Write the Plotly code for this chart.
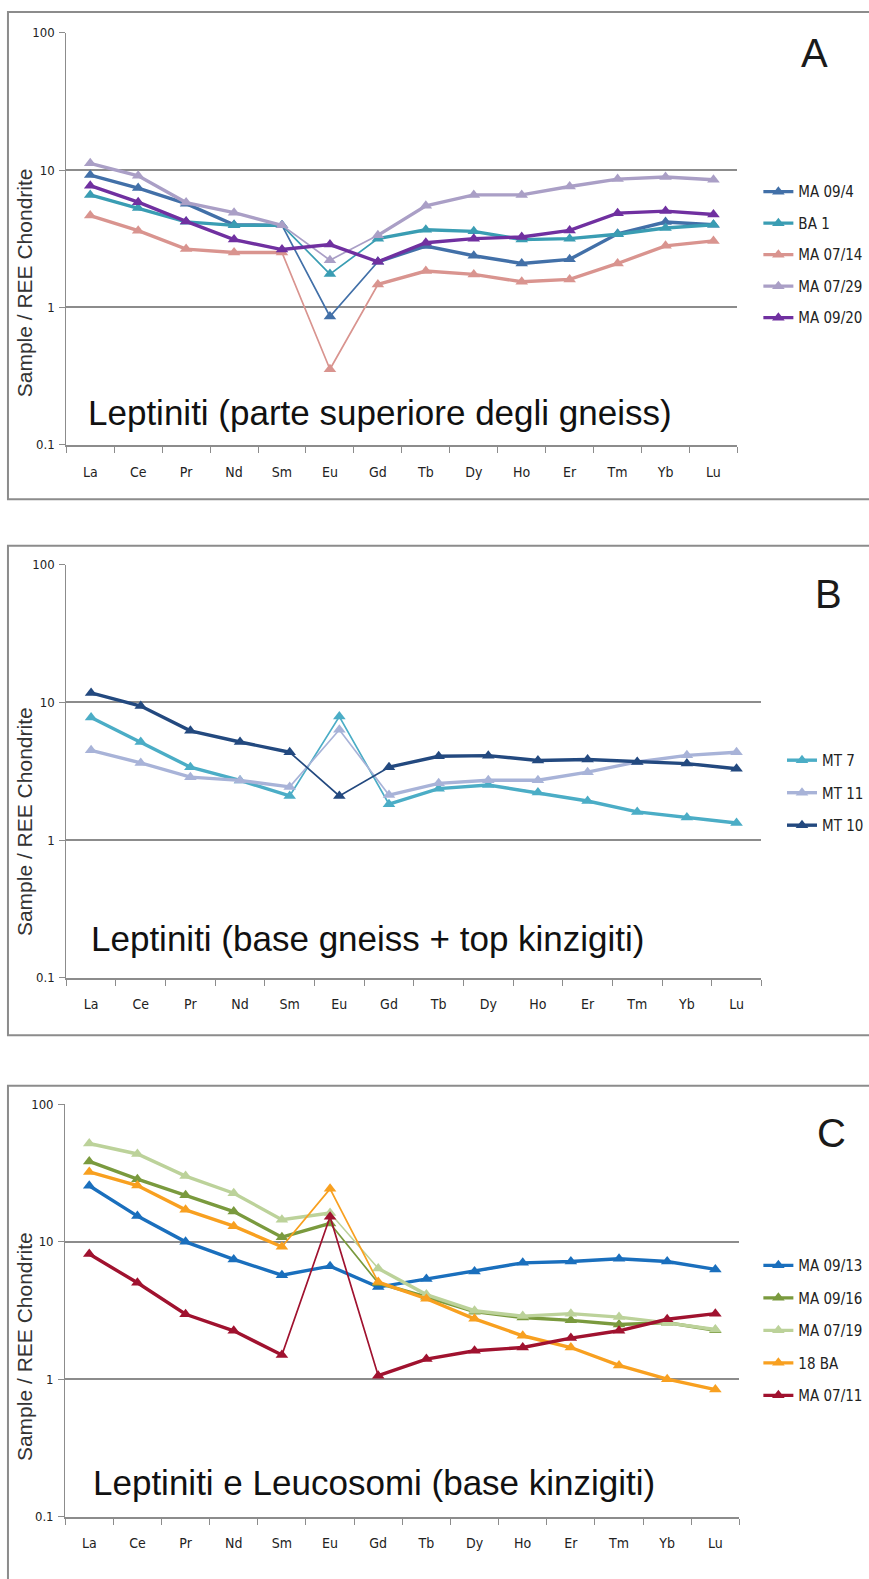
import math
import plotly.graph_objects as go

W, H = 869, 1579

ree = ["La", "Ce", "Pr", "Nd", "Sm", "Eu", "Gd", "Tb", "Dy", "Ho", "Er", "Tm", "Yb", "Lu"]
y_tickvals = [0.1, 1, 10, 100]
y_ticktext = ["0.1", "1", "10", "100"]

# ---- Panel A ----
a_names = ["MA 09/4", "BA 1", "MA 07/14", "MA 07/29", "MA 09/20"]
ma_09_4 = [9.2, 7.4, 5.7, 4.0, 3.96, 0.86, 2.15, 2.8, 2.38, 2.09, 2.24, 3.44, 4.19, 4.0]
ba_1 = [6.6, 5.3, 4.2, 3.96, 3.96, 1.75, 3.17, 3.68, 3.58, 3.12, 3.17, 3.41, 3.79, 4.0]
ma_07_14 = [4.67, 3.62, 2.66, 2.51, 2.51, 0.355, 1.47, 1.84, 1.74, 1.54, 1.60, 2.09, 2.81, 3.05]
ma_07_29 = [11.2, 9.1, 5.8, 4.9, 3.96, 2.21, 3.35, 5.5, 6.6, 6.6, 7.6, 8.6, 8.9, 8.5]
ma_09_20 = [7.7, 5.84, 4.23, 3.12, 2.64, 2.87, 2.15, 2.96, 3.17, 3.26, 3.64, 4.86, 5.03, 4.75]
a_colors = ["#4270A8", "#3A9DB3", "#D9948F", "#AA9FC6", "#7030A0"]

# ---- Panel B ----
b_names = ["MT 7", "MT 11", "MT 10"]
mt_7 = [7.75, 5.15, 3.38, 2.71, 2.09, 7.88, 1.82, 2.36, 2.51, 2.21, 1.92, 1.60, 1.46, 1.33]
mt_11 = [4.48, 3.63, 2.86, 2.71, 2.43, 6.32, 2.12, 2.58, 2.72, 2.72, 3.11, 3.69, 4.12, 4.34]
mt_10 = [11.7, 9.4, 6.21, 5.15, 4.34, 2.09, 3.38, 4.06, 4.10, 3.78, 3.84, 3.69, 3.59, 3.29]
b_colors = ["#4BADC6", "#A8B3D8", "#23497F"]

# ---- Panel C ----
c_names = ["MA 09/13", "MA 09/16", "MA 07/19", "18 BA", "MA 07/11"]
ma_09_13 = [25.6, 15.4, 10.0, 7.44, 5.72, 6.65, 4.68, 5.37, 6.08, 7.03, 7.19, 7.52, 7.19, 6.30]
ma_09_16 = [38.5, 28.6, 21.8, 16.6, 10.8, 13.6, 5.01, 3.98, 3.10, 2.81, 2.68, 2.50, 2.58, 2.27]
ma_07_19 = [52.0, 43.6, 30.1, 22.6, 14.5, 16.2, 6.40, 4.13, 3.15, 2.88, 3.00, 2.83, 2.57, 2.30]
ba_18 = [32.3, 25.7, 17.1, 13.0, 9.2, 24.3, 5.09, 3.85, 2.75, 2.07, 1.70, 1.26, 1.00, 0.84]
ma_07_11 = [8.15, 5.03, 2.97, 2.25, 1.50, 15.2, 1.06, 1.40, 1.61, 1.70, 1.99, 2.25, 2.73, 3.00]
c_colors = ["#1A6FBD", "#7A9A3E", "#BCD29A", "#F8A020", "#A0122F"]

panel_titles = ["Leptiniti (parte superiore degli gneiss)",
                "Leptiniti (base gneiss + top kinzigiti)",
                "Leptiniti e Leucosomi (base kinzigiti)"]
panel_letters = ["A", "B", "C"]
y_title = "Sample / REE Chondrite"

NARROW = "DejaVu Sans Condensed, Liberation Sans Narrow, sans-serif"
REG = "Liberation Sans, Arial, sans-serif"
GRID = "#8c8c8c"


def px(x):
    return x / W


def py(y):
    return 1 - y / H


# layout geometry (pixels)
panels = [
    dict(x0=66.5, x1=740, ytop=26, ybot=442, border=(8, 5, 497), letter=(817, 46),
         text=(86, 409), ytitle=278, legend=(761, 170), gap=9),
    dict(x0=66.5, x1=764, ytop=563, ybot=980, border=(8, 544, 1038), letter=(831, 593),
         text=(89, 940), ytitle=822, legend=(785, 744), gap=10),
    dict(x0=65.4, x1=742, ytop=1108, ybot=1524, border=(8, 1089, 1600), letter=(834, 1137),
         text=(91, 1490), ytitle=1352, legend=(761, 1254), gap=10),
]

series = [
    (a_names, [ma_09_4, ba_1, ma_07_14, ma_07_29, ma_09_20], a_colors),
    (b_names, [mt_7, mt_11, mt_10], b_colors),
    (c_names, [ma_09_13, ma_09_16, ma_07_19, ba_18, ma_07_11], c_colors),
]

fig = go.Figure()

for k, (names, vals_list, colors) in enumerate(series):
    ax = "" if k == 0 else str(k + 1)
    leg = "legend" if k == 0 else "legend%d" % (k + 1)
    for name, vals, col in zip(names, vals_list, colors):
        # thin steep segments around the Eu anomaly
        thin = []
        for i in range(len(vals) - 1):
            steep = abs(math.log10(vals[i + 1]) - math.log10(vals[i])) > 0.16
            thin.append((i == 4 or i == 5) and steep)
        fig.add_trace(go.Scatter(
            x=ree, y=vals, mode="lines", line=dict(color=col, width=1.7),
            showlegend=False, hoverinfo="skip", xaxis="x" + ax, yaxis="y" + ax))
        xs, ys = [], []
        for i, v in enumerate(vals):
            xs.append(ree[i])
            ys.append(v)
            if i < len(thin) and thin[i]:
                xs.append(ree[i])
                ys.append(None)
        fig.add_trace(go.Scatter(
            x=xs, y=ys, mode="lines+markers", name=name,
            line=dict(color=col, width=3.4),
            marker=dict(symbol="triangle-up", size=11, color=col),
            connectgaps=False, legend=leg, legendgroup=name,
            xaxis="x" + ax, yaxis="y" + ax))

layout = dict(
    width=W, height=H, margin=dict(l=0, r=0, t=0, b=0),
    paper_bgcolor="white", plot_bgcolor="white",
    font=dict(family=NARROW, color="#222"),
    shapes=[], annotations=[],
)

for k, p in enumerate(panels):
    ax = "" if k == 0 else str(k + 1)
    layout["xaxis" + ax] = dict(
        type="category", categoryorder="array", categoryarray=ree,
        range=[-0.5, 13.5], domain=[px(p["x0"]), px(p["x1"])], anchor="y" + ax,
        showgrid=False, showline=True, linecolor=GRID, linewidth=2,
        ticks="outside", tickson="boundaries", ticklen=6, tickcolor=GRID, tickwidth=1,
        tickfont=dict(family=NARROW, size=14, color="#222"), ticklabelstandoff=13,
        zeroline=False, fixedrange=True)
    layout["yaxis" + ax] = dict(
        type="log", range=[-1, 2], domain=[py(p["ybot"]), py(p["ytop"])], anchor="x" + ax,
        tickvals=y_tickvals, ticktext=y_ticktext,
        showgrid=True, gridcolor=GRID, gridwidth=2,
        showline=True, linecolor=GRID, linewidth=1,
        ticks="outside", ticklen=6, tickcolor=GRID,
        tickfont=dict(family=NARROW, size=13, color="#222"), ticklabelstandoff=2,
        zeroline=False, fixedrange=True)
    bx, btop, bbot = p["border"]
    layout["shapes"].append(dict(
        type="rect", xref="paper", yref="paper",
        x0=px(bx), x1=1.05, y0=py(bbot), y1=py(btop),
        line=dict(color=GRID, width=2), fillcolor="rgba(0,0,0,0)", layer="below"))
    lx, ly = p["letter"]
    layout["annotations"].append(dict(
        text=panel_letters[k], xref="paper", yref="paper", x=px(lx), y=py(ly),
        xanchor="center", yanchor="middle", showarrow=False,
        font=dict(family=REG, size=40, color="#1a1a1a")))
    tx, ty = p["text"]
    layout["annotations"].append(dict(
        text=panel_titles[k], xref="paper", yref="paper", x=px(tx), y=py(ty),
        xanchor="left", yanchor="middle", showarrow=False,
        font=dict(family=REG, size=35, color="#111")))
    layout["annotations"].append(dict(
        text=y_title, xref="paper", yref="paper", x=px(24), y=py(p["ytitle"]),
        xanchor="center", yanchor="middle", showarrow=False, textangle=-90,
        font=dict(family=REG, size=21, color="#333")))
    gx, gy = p["legend"]
    layout["legend" if k == 0 else "legend%d" % (k + 1)] = dict(
        x=px(gx), y=py(gy), xanchor="left", yanchor="top",
        bgcolor="rgba(0,0,0,0)", borderwidth=0,
        font=dict(family=NARROW, size=15, color="#222"),
        tracegroupgap=p["gap"], itemclick=False, itemdoubleclick=False)

fig.update_layout(**layout)
fig.write_html("out.html")
